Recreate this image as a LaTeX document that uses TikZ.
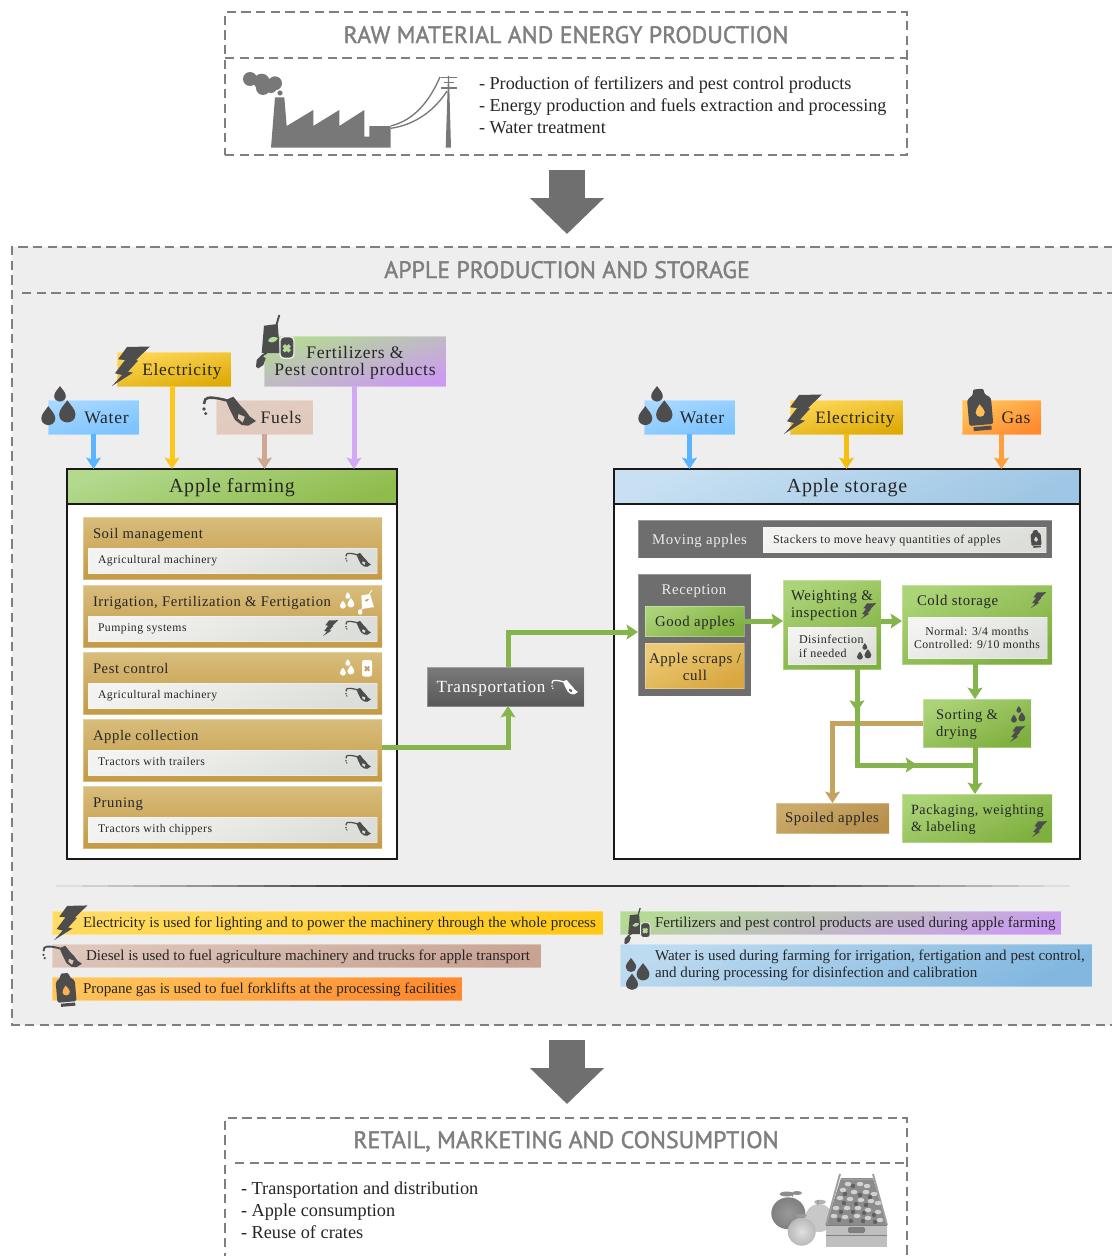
\documentclass[tikz,border=0pt]{standalone}
\usepackage{fontspec}
\setmainfont{Liberation Serif}
\newfontfamily\trk[LetterSpace=4]{Liberation Serif}
\newfontfamily\ttl[FakeBold=1.5]{PT Sans}
\usetikzlibrary{arrows.meta,decorations.markings}
\definecolor{icon}{HTML}{4D4D4D}
\definecolor{frameg}{HTML}{7F7F7F}
\definecolor{factg}{HTML}{787878}
\definecolor{bgg}{HTML}{EEEEEE}
\definecolor{grn}{HTML}{86B44C}
\definecolor{tancol}{HTML}{C4A35E}
\def\hexc#1{\definecolor{#1}{HTML}{#1}}
\hexc{A8D8FF}\hexc{35A6FF}\hexc{7CC3FF}\hexc{FFD75A}\hexc{FCC81E}\hexc{DDAB05}\hexc{FFDC66}\hexc{FFC916}\hexc{E3CCC0}\hexc{CCA28E}\hexc{E0C8BC}\hexc{DEC6BA}\hexc{C8A292}\hexc{B4DA94}\hexc{DFD6E6}\hexc{CB9BF2}\hexc{FFC55A}\hexc{FF8A30}\hexc{B2D98E}\hexc{8FBC4C}\hexc{C8E0F2}\hexc{9FC7E5}\hexc{BCDAF0}\hexc{82B8E0}\hexc{D8BD7C}\hexc{C49A44}\hexc{F3F4F1}\hexc{DCDED9}\hexc{7A7A7A}\hexc{585858}\hexc{ABD377}\hexc{7FAF3F}\hexc{ECCB78}\hexc{D8A73F}\hexc{CBAB6C}\hexc{B68F4A}\hexc{6E6E6E}\hexc{6F6F6F}\hexc{5AB4FF}\hexc{FBC71A}\hexc{CFA893}\hexc{D2A9F5}\hexc{F2BE10}\hexc{FF9F3C}\hexc{FFBE55}\hexc{D8D8D8}\hexc{333333}\hexc{FFB050}
\newcommand\fs[2]{\fontsize{#1}{#2}\selectfont}
\newcommand\TR[2]{\trk\fontsize{#1}{#2}\selectfont}
\tikzset{
 bxs/.style={inner sep=0,outer sep=0,anchor=north west},
 txt/.style={inner sep=0,outer sep=0,anchor=mid west,text=black!85},
 ctr/.style={anchor=mid},
 lightedge/.style={draw=white,draw opacity=.3,line width=.6pt},
 gwater/.style={left color=A8D8FF,middle color=35A6FF,right color=7CC3FF,shading angle=15,lightedge},
 gelec/.style={left color=FFD75A,middle color=FCC81E,right color=DDAB05,shading angle=12,lightedge},
 glelec/.style={left color=FFDC66,right color=FFC916,shading angle=12,lightedge},
 gfuel/.style={left color=E3CCC0,middle color=CCA28E,right color=E0C8BC,shading angle=15,lightedge},
 glfuel/.style={left color=DEC6BA,right color=C8A292,shading angle=15,lightedge},
 gfert/.style={left color=B4DA94,middle color=DFD6E6,right color=CB9BF2,shading angle=15,lightedge},
 ggas/.style={left color=FFC55A,right color=FF8A30,shading angle=25,lightedge},
 ggreen/.style={left color=B2D98E,right color=8FBC4C,shading angle=20,lightedge},
 gblue/.style={left color=C8E0F2,right color=9FC7E5,shading angle=25,lightedge},
 glblue/.style={left color=BCDAF0,right color=82B8E0,shading angle=25,lightedge},
 grw/.style={top color=D8BD7C,bottom color=C49A44,lightedge},
 gwhite/.style={left color=F3F4F1,right color=DCDED9,shading angle=25,lightedge},
 ggray/.style={top color=7A7A7A,bottom color=585858,lightedge},
 gstep/.style={left color=ABD377,right color=7FAF3F,shading angle=25,lightedge},
 gscrap/.style={left color=ECCB78,right color=D8A73F,shading angle=25,lightedge},
 gspoil/.style={left color=CBAB6C,right color=B68F4A,shading angle=25,lightedge},
 gray box/.style={fill=6E6E6E,lightedge},
 dframe/.style={draw=frameg,line width=2pt,dash pattern=on 7pt off 4pt},
 conn/.style={line width=3.75pt,-{Stealth[length=8.5pt,width=11pt,inset=1.5pt]}},
 flow/.style={conn,color=grn},
 big/.style={draw=6F6F6F,line width=27pt,-{Triangle[length=27pt,width=54pt]}},
}
\newcommand\bx[6][]{\node[bxs,minimum width={((#5)-(#3))*0.75pt},minimum height={((#6)-(#4))*0.75pt},#1] (#2) at (#3,#4) {};}
\newcommand\tx[5][]{\node[txt,#1] (#2) at (#3,#4) {#5};}
% icons
\newcommand\Ibolt[4]{\begin{scope}[shift={(#1,#2)},scale=#3]
 \fill[#4] (15,1)--(38,.5)--(24,14)--(26,14.7)--(16,25.7)--(21,26.7)--(0,40)--(10,29)--(3,27.3)--(13,14)--(6,13.3)--cycle;
\end{scope}}
\newcommand\Idrop[4]{\begin{scope}[shift={(#1,#2)},scale=#3]
 \fill[#4] (0,-1.55) .. controls (.4,-.95) and (1,-.45) .. (1,.2) .. controls (1,.8) and (.5,1.15) .. (0,1.15) .. controls (-.5,1.15) and (-1,.8) .. (-1,.2) .. controls (-1,-.45) and (-.4,-.95) .. (0,-1.55) -- cycle;
\end{scope}}
\newcommand\Idrops[4]{\begin{scope}[shift={(#1,#2)},scale=#3]
 \Idrop{2}{-12}{5.8}{#4}\Idrop{-9.7}{10}{7}{#4}\Idrop{9.3}{6}{8.2}{#4}
\end{scope}}
\newcommand\Inozzle[4]{\begin{scope}[shift={(#1,#2)},scale=#3]
 \fill[#4,even odd rule] (23.7,3)--(31.3,-.3)--(38,8)--(43,13)--(48,19.7)--(54,24)--(46.3,28.7)--(39.7,28)--(33,23)--(28,13)--cycle
   (36.3,17)--(43,19.7)--(40.7,25.7)--(35.7,21.3)--cycle;
 \draw[#4,line width=#3*1.9pt] (25,3.5) .. controls (14,.5) and (5,-.5) .. (3.2,2.5) .. controls (2.4,4) and (2.2,5.5) .. (2,7);
 \fill[#4] (2,12) circle[radius=1.8] (3.7,16.5) circle[radius=1.7];
\end{scope}}
\newcommand\Igas[5]{\begin{scope}[shift={(#1,#2)},scale=#3,rotate=5]
 \fill[#4,rounded corners=#3*1.6pt] (-12,-11)--(-5.5,-16)--(-5.5,-21)--(5.5,-21)--(5.5,-16)--(12,-11)--(12,15)--(-12,15)--cycle;
 \fill[#4] (-8,16.5) rectangle (10,20.5);
 \Idrop{0}{1.5}{4.6}{#5}
\end{scope}}
\newcommand\Ibottle[5]{\begin{scope}[shift={(#1,#2)},scale=#3]
 \fill[#4,rounded corners=#3*2.5pt] (0,0) rectangle (14,23);
 \draw[#5,line width=#3*2pt] (4,9)--(10,15) (10,9)--(4,15);
\end{scope}}
\newcommand\Ibag[5]{\begin{scope}[shift={(#1,#2)},scale=#3]
 \fill[#4] (7,10.7)--(20.7,9)--(23,38)--(4.7,38)--cycle;
 \draw[#4,line width=#3*1.4pt] (19.7,9)--(22.3,0) (9.7,37.7)--(4.7,41);
 \fill[#4] (-1,51.7)--(-.3,45)--(4.7,40)--(8.7,43.3)--(6.3,50)--(1.3,53.3)--cycle;
 \fill[#5] (11,26) .. controls (12,22) and (17,21) .. (21,23) .. controls (19,27) and (15,29) .. cycle;
 \draw[bgg,line width=#3*1pt,fill=#4,rounded corners=#3*3pt] (23,21.7) rectangle (37,43.3);
 \draw[#5,line width=#3*2.6pt] (26.7,30.3)--(32.7,36.3) (32.7,30.3)--(26.7,36.3);
\end{scope}}
\begin{document}
\begin{tikzpicture}[x=0.75pt,y=-0.75pt]
\clip (0,0) rectangle (1112,1256);
\fill[white] (0,0) rectangle (1112,1256);
% ---------- top block
\bx[dframe]{raw}{225}{12}{907}{155}
\draw[dframe] (raw.west |- 0,58) -- (raw.east |- 0,58);
\tx[ctr,font=\ttl\fs{17.9}{22},text=frameg]{rawt}{566}{40}{RAW MATERIAL AND ENERGY PRODUCTION}
\tx[anchor=west,font=\fs{13.65}{16.5},align=left]{rawl}{479}{105.5}{- Production of fertilizers and pest control products\\- Energy production and fuels extraction and processing\\- Water treatment}
\fill[factg] (275,97.3)--(284.3,97.3)--(286.7,126)--(313.3,110)--(313.3,126)--(339.3,110)--(339.3,126)--(364.3,110)--(364.3,136.7)--(369.3,136.7)--(369.3,126)--(390.7,126)--(390.7,147.7)--(271,147.7)--cycle;
\fill[factg] (250,79) circle[radius=7] (261.7,81.7) circle[radius=8] (275,83.3) circle[radius=7] (263,88) circle[radius=7] (271,87) circle[radius=6] (280,93) circle[radius=2.6];
\fill[factg] (445.7,147.7)--(451,147.7)--(449,76)--(448,76)--cycle;
\draw[factg,line width=1pt] (390.7,126) .. controls (415,120) and (430,100) .. (440,77) (390.7,128.3) .. controls (415,125) and (435,110) .. (447,91);
\draw[factg,line width=1.3pt] (441,77.5)--(457,77.5) (441,88)--(457,88) (444,82.5)--(454,82.5);
\coordinate (a1s) at (567,170);\coordinate (a1e) at (567,234);
\draw[big] (a1s) -- (a1e);
% ---------- middle block
\node[bxs,fill=bgg,minimum width=825pt,minimum height={778*0.75pt}] (mid) at (12,247) {};
\draw[dframe] (1113,247) -- (12,247) -- (12,1025) -- (1113,1025);
\draw[dframe] (22,293) -- (1112,293);
\tx[ctr,font=\ttl\fs{17.9}{22},text=frameg]{midt}{567}{275}{APPLE PRODUCTION AND STORAGE}
% farming inputs
\bx[gelec]{e1}{117}{352}{231}{386}
\bx[gfert]{f1}{264}{336}{446}{386}
\bx[gwater]{w1}{48}{400}{139}{434}
\bx[gfuel]{u1}{216}{400}{313}{434}
\tx[ctr,font=\TR{13}{16}]{e1t}{182}{372}{Electricity}
\tx[anchor=center,font=\TR{13.2}{13},align=center]{f1t}{355}{363}{Fertilizers \&\\Pest control products}
\tx[ctr,font=\TR{13.2}{16}]{w1t}{106.5}{420}{Water}
\tx[ctr,font=\TR{13.2}{16}]{u1t}{281}{420}{Fuels}
\Ibolt{112}{346}{1}{icon}
\Ibag{257}{315}{1}{icon}{B4DA94}
\Idrops{58}{407}{1}{icon}
\Inozzle{202}{397}{1}{icon}
% farming frame
\node[bxs,draw=black!90,fill=white,line width=1.5pt,minimum width={330*0.75pt},minimum height={390*0.75pt}] (farm) at (67,469) {};
\bx[ggreen,draw=black!90,draw opacity=1,line width=1.5pt]{farmh}{67}{469}{397}{504}
\tx[ctr,font=\TR{15}{18}]{farmt}{232}{489}{Apple farming}
% storage inputs
\bx[gwater]{w2}{644}{400}{735}{434}
\bx[gelec]{e2}{790}{400}{903}{434}
\bx[ggas]{g2}{962}{400}{1041}{434}
\tx[ctr,font=\TR{13.2}{16}]{w2t}{702}{420}{Water}
\tx[ctr,font=\TR{13}{16}]{e2t}{855}{420}{Electricity}
\tx[ctr,font=\TR{13.2}{16}]{g2t}{1016}{420}{Gas}
\Idrops{655}{407}{1}{icon}
\Ibolt{784}{394}{1}{icon}
\Igas{980}{410}{1}{icon}{FFBE55}
% storage frame
\node[bxs,draw=black!90,fill=white,line width=1.5pt,minimum width={466*0.75pt},minimum height={390*0.75pt}] (stor) at (614,469) {};
\bx[gblue,draw=black!90,draw opacity=1,line width=1.5pt]{storh}{614}{469}{1080}{504}
\tx[ctr,font=\TR{15}{18}]{stort}{847}{489}{Apple storage}
% input connectors
\draw[conn,color=5AB4FF] (w1.south) -- (w1.south |- farm.north);
\draw[conn,color=FBC71A] ([xshift=-1.5pt]e1.south) -- ([xshift=-1.5pt]e1.south |- farm.north);
\draw[conn,color=CFA893] (u1.south) -- (u1.south |- farm.north);
\draw[conn,color=D2A9F5] ([xshift=-.75pt]f1.south) -- ([xshift=-.75pt]f1.south |- farm.north);
\draw[conn,color=5AB4FF] (w2.south) -- (w2.south |- stor.north);
\draw[conn,color=F2BE10] (e2.south) -- (e2.south |- stor.north);
\draw[conn,color=FF9F3C] (g2.south) -- (g2.south |- stor.north);
% farming rows
\newcommand\frow[4]{%
 \bx[grw]{#1}{83}{#2}{382}{#2+62}
 \bx[gwhite]{#1i}{88}{#2+31}{377}{#2+56}
 \tx[font=\TR{11}{12}]{#1t}{93}{#2+18}{#3}
 \tx[font=\TR{8.8}{10}]{#1s}{98}{#2+43.5}{#4}
 \Inozzle{345}{#2+36}{.48}{icon}}
\frow{r1}{517}{Soil management}{Agricultural machinery}
\frow{r2}{585}{Irrigation, Fertilization \& Fertigation}{Pumping systems}
\frow{r3}{652}{Pest control}{Agricultural machinery}
\frow{r4}{719}{Apple collection}{Tractors with trailers}
\frow{r5}{786}{Pruning}{Tractors with chippers}
\Idrops{347}{601}{.42}{white}
\Ibolt{323}{620}{.4}{icon}
\begin{scope}[shift={(358,590)},scale=.5]
 \fill[white] (6.7,11)--(24,8)--(32,34)--(8,38)--cycle;
 \draw[white,line width=.6pt] (22,9)--(28,0) (10,35)--(5,42);
 \fill[white] (4.3,44) ellipse[x radius=4.6,y radius=5.5];
 \fill[tancol] (13,22) .. controls (15,18) and (19,18) .. (22,18) .. controls (21,22) and (17,25) .. cycle;
\end{scope}
\Idrops{347}{668}{.42}{white}
\Ibottle{362}{660}{.72}{white}{tancol}
% transportation
\bx[ggray]{trans}{427}{667}{584}{706}
\tx[ctr,font=\TR{12.8}{15},text=white]{transt}{491}{689}{Transportation}
\Inozzle{551}{680}{.5}{white}
\draw[flow] ([yshift=1.9pt]r4.east) -| ([xshift=1.9pt]trans.south);
% storage content
\bx[gray box]{mov}{638}{520}{1052}{558}
\tx[ctr,font=\TR{11.1}{12},text=white!92!black]{movt}{699.5}{541}{Moving apples}
\bx[gwhite]{movi}{763}{527}{1046}{552}
\tx[font=\TR{9}{10}]{movs}{773}{540}{Stackers to move heavy quantities of apples}
\Igas{1036}{539}{.42}{icon}{D8D8D8}
\bx[gray box]{recep}{638}{574}{751}{696}
\tx[ctr,font=\TR{11.1}{12},text=white!92!black]{rect}{694}{591}{Reception}
\bx[gstep]{good}{645}{606}{744}{636}
\tx[ctr,font=\TR{11.1}{12}]{goodt}{695}{623}{Good apples}
\bx[gscrap]{scr}{645}{643}{744}{688}
\tx[anchor=center,font=\TR{11.2}{12.6},align=center]{scrt}{695}{667}{Apple scraps /\\cull}
\bx[gstep]{weigh}{783}{580}{881}{669}
\tx[anchor=west,font=\TR{11.1}{12.8},align=left]{weight}{791}{605}{Weighting \&\\inspection}
\bx[gwhite]{wi}{788}{627}{876}{664}
\tx[anchor=west,font=\TR{9}{10.5},align=left]{wit}{799}{646}{Disinfection\\if needed}
\Ibolt{861}{603}{.4}{icon}
\Idrops{864}{652}{.42}{icon}
\bx[gstep]{cold}{902}{585}{1052}{664}
\tx[font=\TR{11.1}{12}]{coldt}{917}{602.5}{Cold storage}
\bx[gwhite]{ci}{908}{617}{1047}{658}
\tx[anchor=center,font=\TR{8.85}{10},align=center]{cit}{977}{638}{Normal: 3/4 months\\Controlled: 9/10 months}
\Ibolt{1031}{592}{.4}{icon}
\bx[gstep]{sort}{923}{699}{1031}{747}
\tx[anchor=west,font=\TR{10.9}{12.8},align=left]{sortt}{936}{725}{Sorting \&\\drying}
\Idrops{1018}{715}{.42}{icon}
\Ibolt{1010}{726}{.4}{icon}
\bx[gspoil]{spoil}{776}{803}{889}{833}
\tx[ctr,font=\TR{11.1}{12}]{spoilt}{832}{819}{Spoiled apples}
\bx[gstep]{pack}{902}{794}{1052}{842}
\tx[anchor=west,font=\TR{10.6}{12.8},align=left]{packt}{911}{820}{Packaging, weighting\\\& labeling}
\Ibolt{1032}{821}{.4}{icon}
% storage connectors
\draw[conn,color=tancol] (sort.west) -| (spoil.north);
\coordinate (jn) at (975,765);
\draw[flow,postaction={decorate},decoration={markings,mark=at position .2 with {\arrow{Stealth[length=8.5pt,width=11pt,inset=1.5pt]}},mark=at position .73 with {\arrow{Stealth[length=8.5pt,width=11pt,inset=1.5pt]}}},-] ([xshift=18.75pt]weigh.south) |- (jn);
\draw[flow] ([xshift=1.9pt]trans.north) |- ([yshift=2.25pt]recep.west);
\draw[flow] (good.east) -- (good.east -| weigh.west);
\draw[flow] (good.east -| weigh.east) -- (good.east -| cold.west);
\draw[flow] ([xshift=-1.5pt]cold.south) -- ([xshift=-1.5pt]sort.north);
\draw[flow] ([xshift=-1.5pt]sort.south) -- ([xshift=-1.5pt]pack.north);
% separator
\foreach \i in {0,...,40}{\pgfmathsetmacro\mx{min(100,(20-abs(\i-20))*8)}
 \fill[333333!\mx!bgg] ({30+\i*26},885.1) rectangle ({30+(\i+1)*26+.5},886.9);}
% legend
\bx[glelec]{l1}{52}{911}{603}{934}
\tx[font=\fs{11.27}{13}]{l1t}{83}{924}{Electricity is used for lighting and to power the machinery through the whole process}
\bx[glfuel]{l2}{52}{944}{541}{967}
\tx[font=\fs{11.3}{13}]{l2t}{86}{957}{Diesel is used to fuel agriculture machinery and trucks for apple transport}
\bx[ggas]{l3}{52}{977}{462}{1000}
\tx[font=\fs{11.27}{13}]{l3t}{83}{990}{Propane gas is used to fuel forklifts at the processing facilities}
\bx[gfert]{l4}{620}{911}{1061}{934}
\tx[font=\fs{11.28}{13}]{l4t}{655}{924}{Fertilizers and pest control products are used during apple farming}
\bx[glblue]{l5}{620}{944}{1092}{986}
\tx[anchor=west,font=\fs{11.28}{13},align=left]{l5t}{655}{965.5}{Water is used during farming for irrigation, fertigation and pest control,\\and during processing for disinfection and calibration}
\Ibolt{54}{905}{.88}{icon}
\Inozzle{42}{946}{.74}{icon}
\Igas{66}{990}{.8}{icon}{FFB050}
\Ibag{625}{908}{.68}{icon}{B4DA94}
\Idrop{631}{966}{5.2}{icon}\Idrop{643}{973}{6.4}{icon}\Idrop{632}{983}{6}{icon}
\coordinate (a2s) at (567,1040);\coordinate (a2e) at (567,1104);
\draw[big] (a2s) -- (a2e);
% ---------- bottom block
\draw[dframe] (225,1262) -- (225,1118) -- (907,1118) -- (907,1262);
\draw[dframe] (235,1163) -- (907,1163);
\tx[ctr,font=\ttl\fs{17.9}{22},text=frameg]{rett}{566}{1145}{RETAIL, MARKETING AND CONSUMPTION}
\tx[anchor=west,font=\fs{13.7}{16.5},align=left]{retl}{241}{1210}{- Transportation and distribution\\- Apple consumption\\- Reuse of crates}
% apples and crate
\fill[gray!90] (786.7,1194) ellipse[x radius=7,y radius=2.5];
\fill[gray!90] (797,1193) ellipse[x radius=5,y radius=2];
\fill[gray!60] (820,1202) ellipse[x radius=6,y radius=2.2];
\fill[gray!43] (819,1218) circle[radius=14];
\shade[inner color=gray!80,outer color=gray] (788.3,1213.3) ellipse[x radius=17,y radius=16];
\shade[inner color=gray!25,outer color=gray!55] (801.7,1231.7) circle[radius=14];
\draw[gray,line width=.6pt] (801.7,1218)--(803,1213) (793,1197)--(792,1193) (818,1205)--(818,1200);
\fill[gray!80] (801,1215.7) ellipse[x radius=6,y radius=2];
% crate
\fill[gray!90] (841,1178) -- (873,1178) -- (887,1225) -- (826,1225) -- cycle;
\draw[gray!75,line width=1.4pt] (840,1174) -- (826,1225) (873,1174) -- (887,1225);
\draw[gray!75,line width=1pt] (841,1179.5) -- (873,1179.5);
\foreach \a/\b in {848/1184,860/1184,867/1186,843/1190,854/1192,866/1192,874/1194,840/1198,850/1199,861/1200,871/1201,878/1203,836/1208,847/1208,858/1208,868/1210,878/1212,834/1216,845/1217,857/1216,868/1218,880/1220}{\fill[gray!35] (\a,\b) ellipse[x radius=3.4,y radius=2.2];}
\foreach \a/\b in {853/1186,845/1194,860/1195,870/1197,844/1203,856/1204,866/1205,841/1212,853/1212,864/1213,874/1215,839/1220,851/1221,863/1221,875/1222}{\fill[black!62] (\a,\b) circle[radius=2.2];}
\fill[gray!50] (826,1225) rectangle (887,1247);
\fill[gray] (826,1224.5) rectangle (887,1226);
\fill[gray] (826,1234.5) rectangle (887,1236);
\fill[gray,rounded corners=1pt] (848,1227) rectangle (865,1233);
\end{tikzpicture}
\end{document}
